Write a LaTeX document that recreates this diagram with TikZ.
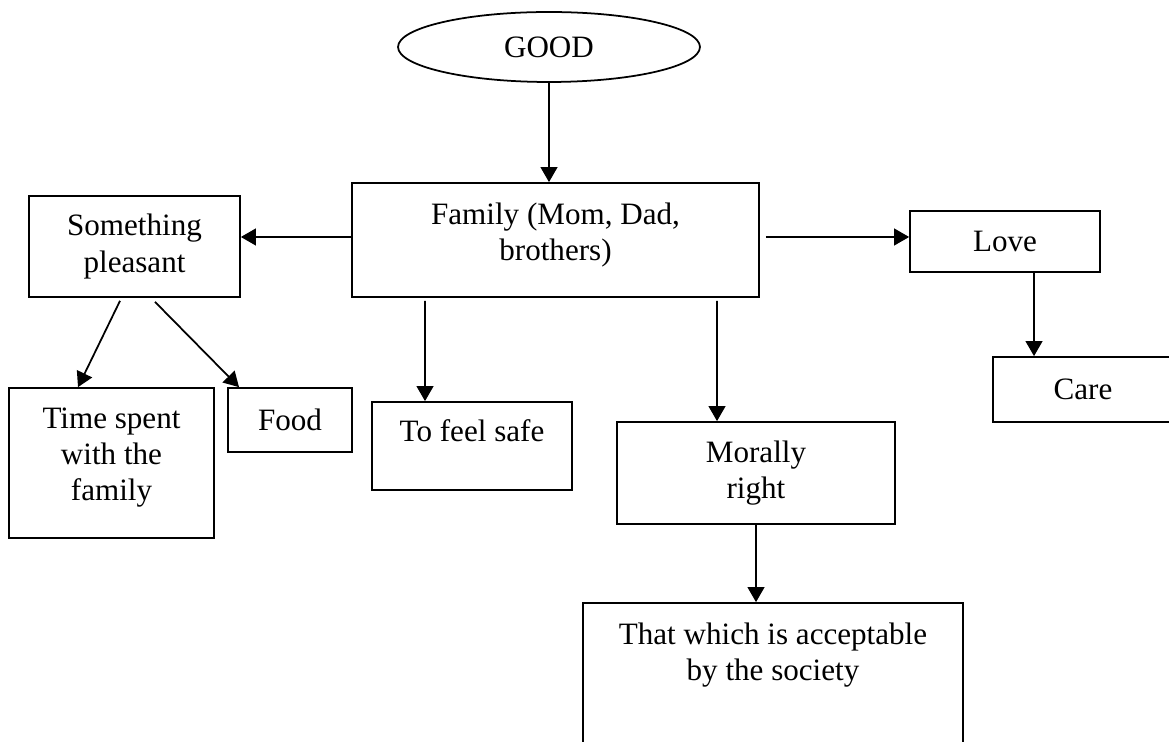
\documentclass[tikz,border=0pt]{standalone}
\usepackage{fontspec}
\setmainfont{Liberation Serif}
\usetikzlibrary{arrows.meta, shapes.geometric}

\begin{document}
\begin{tikzpicture}[x=0.02cm, y=-0.02cm,
        box/.style={draw, line width=1pt, rectangle, inner sep=0pt, align=center},
        txt/.style={inner sep=0pt, align=center, anchor=north},
        arrow/.style={draw, line width=1pt, -{Triangle[length=8.5pt,width=9.5pt]}},
        font=\fontsize{17.7}{20.6}\selectfont]

        \useasboundingbox (0,0) rectangle (1169,742);
        \clip (0,0) rectangle (1169,742);

        % Top
        \node[draw, line width=1pt, ellipse, minimum width=6.04cm, minimum height=1.4cm, inner sep=0pt] (good) at (549,47) {GOOD};

        \node[box, minimum width=8.14cm, minimum height=2.28cm] (family) at (555.5,240) {};
        \node[txt, yshift=-0.4cm] (familytext) at (family.north) {Family (Mom, Dad,\\brothers)};

        % Left branch
        \node[box, minimum width=4.22cm, minimum height=2.02cm] (pleasant) at (134.5,246.5) {Something\\pleasant};

        \node[box, minimum width=4.1cm, minimum height=3cm] (time) at (111.5,463) {};
        \node[txt, yshift=-0.4cm] (timetext) at (time.north) {Time spent\\with the\\family};

        \node[box, minimum width=2.48cm, minimum height=1.28cm] (food) at (290,420) {Food};

        % Middle
        \node[box, minimum width=4cm, minimum height=1.76cm] (safe) at (472,446) {};
        \node[txt, yshift=-0.36cm] (safetext) at (safe.north) {To feel safe};

        \node[box, minimum width=5.56cm, minimum height=2.04cm] (moral) at (756,473) {Morally\\right};

        \node[box, minimum width=7.6cm, minimum height=3.54cm] (society) at (773,691.5) {};
        \node[txt, yshift=-0.4cm] (societytext) at (society.north) {That which is acceptable\\by the society};

        % Right branch
        \node[box, minimum width=3.8cm, minimum height=1.22cm] (love) at (1005,241.5) {Love};
        \node[box, minimum width=3.6cm, minimum height=1.3cm] (care) at (1083,389.5) {Care};

        % Arrows
        \draw[arrow] (good.south) -- (good.south |- family.north);
        \draw[arrow] ([yshift=0.06cm]family.west) -- ([yshift=0.06cm]family.west -| pleasant.east);
        \draw[arrow] ([xshift=0.12cm,yshift=0.06cm]family.east) -- ([yshift=0.06cm]family.east -| love.west);
        \draw[arrow] ([xshift=0.58cm]love.south) -- ([xshift=-0.98cm]care.north);

        \draw[arrow] ([xshift=-0.29cm,yshift=-0.06cm]pleasant.south) -- ([xshift=-0.67cm]time.north);
        \draw[arrow] ([xshift=0.41cm,yshift=-0.08cm]pleasant.south) -- ([xshift=-1.02cm]food.north);

        \draw[arrow] ([xshift=-2.61cm,yshift=-0.06cm]family.south) -- ([xshift=-0.94cm]safe.north);
        \draw[arrow] ([xshift=3.23cm,yshift=-0.06cm]family.south) -- ([xshift=-0.78cm]moral.north);
        \draw[arrow] (moral.south) -- (moral.south |- society.north);
    \end{tikzpicture}
\end{document}
